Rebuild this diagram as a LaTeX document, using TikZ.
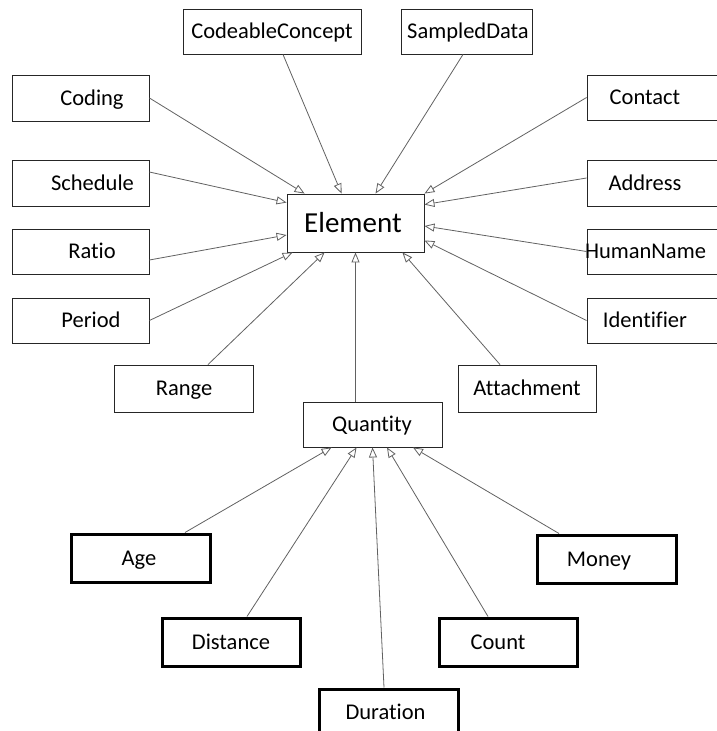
\documentclass[tikz,border=0pt]{standalone}
\usepackage{fontspec}
\setmainfont{Carlito}[Ligatures=CommonOff]
\usetikzlibrary{arrows.meta,calc}
\begin{document}
\begin{tikzpicture}[x=1pt,y=-1pt,
  box/.style={draw=black!85,line width=0.9pt,inner sep=0pt},
  thickbox/.style={draw=black,line width=3pt,inner sep=0pt},
  txt/.style={inner sep=0pt,font=\fontsize{22.5}{26}\selectfont,text height=14.5pt,text depth=0pt},
  bigtxt/.style={inner sep=0pt,font=\fontsize{29}{34}\selectfont,text height=18.7pt,text depth=0pt},
  gen/.style={draw=black!62,line width=0.8pt,-{Triangle[length=10pt,width=8pt,fill=white]}}
]
\useasboundingbox (0,0) rectangle (717,731);
\clip (0,0) rectangle (717,731);

% central class
\node[box,minimum width=137pt,minimum height=58pt] (element) at (355.5,223) {};
\node[bigtxt] (elementtxt) at (353,223) {Element};

% top row
\node[box,minimum width=178pt,minimum height=45pt] (codeable) at (272,31.5) {};
\node[txt] (codeabletxt) at (272,31.5) {CodeableConcept};
\node[box,minimum width=131pt,minimum height=45pt] (sampled) at (466.5,31.5) {};
\node[txt] (sampledtxt) at (468,31.5) {SampledData};

% left column
\node[box,minimum width=137pt,minimum height=46pt] (coding) at (80.5,98) {};
\node[txt] (codingtxt) at (92,98) {Coding};
\node[box,minimum width=137pt,minimum height=46pt] (schedule) at (80.5,183) {};
\node[txt] (scheduletxt) at (92.5,183) {Schedule};
\node[box,minimum width=137pt,minimum height=45pt] (ratio) at (80.5,251.5) {};
\node[txt] (ratiotxt) at (92,251.5) {Ratio};
\node[box,minimum width=137pt,minimum height=45pt] (period) at (80.5,320.5) {};
\node[txt] (periodtxt) at (91,320.5) {Period};

% right column (boxes run past the right margin)
\node[box,minimum width=160pt,minimum height=45pt] (contact) at (667,97.5) {};
\node[txt] (contacttxt) at (645,97.5) {Contact};
\node[box,minimum width=160pt,minimum height=46pt] (address) at (667,183) {};
\node[txt] (addresstxt) at (645,183) {Address};
\node[box,minimum width=160pt,minimum height=45pt] (humanname) at (667,251.5) {};
\node[txt] (humannametxt) at (645.5,251.5) {HumanName};
\node[box,minimum width=160pt,minimum height=45pt] (identifier) at (667,320.5) {};
\node[txt] (identifiertxt) at (645,320.5) {Identifier};

% lower row
\node[box,minimum width=139pt,minimum height=47pt] (range) at (183.5,388.5) {};
\node[txt] (rangetxt) at (184,388.5) {Range};
\node[box,minimum width=138pt,minimum height=47pt] (attachment) at (527,388.5) {};
\node[txt] (attachmenttxt) at (527,388.5) {Attachment};
\node[box,minimum width=139pt,minimum height=45pt] (quantity) at (372.5,424.5) {};
\node[txt] (quantitytxt) at (372,424.5) {Quantity};

% quantity subtypes
\node[thickbox,minimum width=139pt,minimum height=48pt] (age) at (140.5,558) {};
\node[txt] (agetxt) at (139,558) {Age};
\node[thickbox,minimum width=139pt,minimum height=48pt] (money) at (607,559) {};
\node[txt] (moneytxt) at (599,559) {Money};
\node[thickbox,minimum width=138pt,minimum height=48pt] (distance) at (231.5,642) {};
\node[txt] (distancetxt) at (231,642) {Distance};
\node[thickbox,minimum width=138pt,minimum height=48pt] (count) at (508.5,642) {};
\node[txt] (counttxt) at (498,642) {Count};
\node[thickbox,minimum width=139pt,minimum height=52pt] (duration) at (389,715) {};
\node[txt] (durationtxt) at (385.5,712) {Duration};

% generalisations to Element
\draw[gen] (coding.east) -- ($(element.north west)+(18,0)$);
\draw[gen] ($(codeable.south)+(11,0)$) -- ($(element.north west)+(55,0)$);
\draw[gen] ($(sampled.south)+(-3.5,0)$) -- ($(element.north west)+(89,0)$);
\draw[gen] (contact.west) -- (element.north east);
\draw[gen] ($(schedule.east)+(0,-11)$) -- ($(element.north west)+(0,9)$);
\draw[gen] ($(ratio.east)+(0,8.5)$) -- ($(element.west)+(0,12)$);
\draw[gen] (period.east) -- ($(element.south west)+(6,0)$);
\draw[gen] ($(address.west)+(0,-5)$) -- ($(element.north east)+(0,11)$);
\draw[gen] (humanname.west) -- ($(element.east)+(0,3)$);
\draw[gen] (identifier.west) -- ($(element.south east)+(0,-12)$);
\draw[gen] ($(range.north)+(24.5,0)$) -- ($(element.south west)+(38,0)$);
\draw[gen] (quantity.north -| element.south) -- (element.south);
\draw[gen] ($(attachment.north)+(-27,0)$) -- ($(element.south east)+(-22,0)$);

% generalisations to Quantity
\draw[gen] ($(age.north)+(44.5,0)$) -- ($(quantity.south west)+(29,0)$);
\draw[gen] ($(distance.north)+(15.5,0)$) -- ($(quantity.south west)+(54,0)$);
\draw[gen] ($(duration.north)+(-5,0)$) -- (quantity.south);
\draw[gen] ($(count.north)+(-20.5,0)$) -- ($(quantity.south)+(14.5,0)$);
\draw[gen] ($(money.north west)+(23,0)$) -- ($(quantity.south)+(40.5,0)$);
\end{tikzpicture}
\end{document}
